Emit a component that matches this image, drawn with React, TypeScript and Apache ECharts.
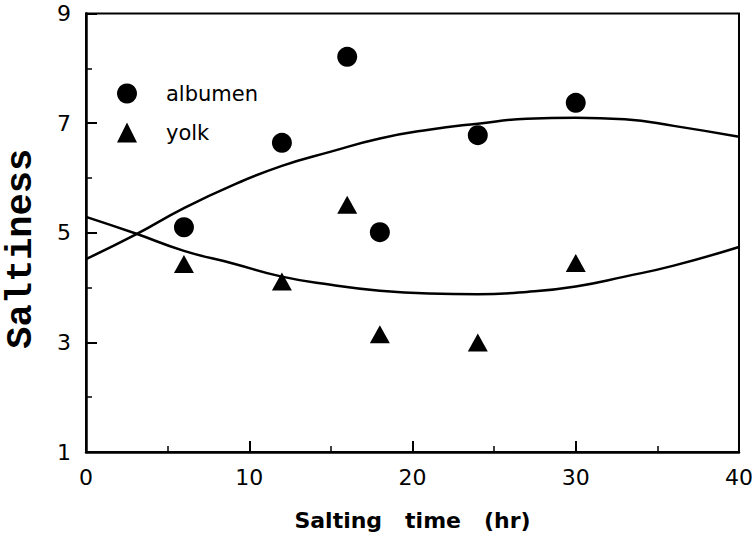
import React, { useEffect, useRef } from "react";
import * as echarts from "echarts";

// Measured points
const sampleHours = [6, 12, 16, 18, 24, 30];
const albumenValues = [5.1, 6.64, 8.21, 5.01, 6.78, 7.37];
const yolkValues = [4.43, 4.11, 5.51, 3.15, 3.0, 4.45];

// Fitted curves
const curveHours = [0, 3, 6, 9, 12, 15, 18, 21, 24, 27, 30, 33, 36, 40];
const albumenCurve = [4.52, 4.96, 5.45, 5.87, 6.22, 6.48, 6.72, 6.88, 6.99, 7.08, 7.1, 7.07, 6.95, 6.75];
const yolkCurve = [5.29, 4.99, 4.67, 4.44, 4.2, 4.05, 3.94, 3.89, 3.88, 3.92, 4.02, 4.2, 4.4, 4.74];

const xTicks = [0, 10, 20, 30, 40];
const yTicks = [1, 3, 5, 7, 9];

const pairs = (xs: number[], ys: number[]) => xs.map((x, i) => [x, ys[i]]);

export default function App() {
  const ref = useRef<HTMLDivElement>(null);
  useEffect(() => {
    if (!ref.current) return;
    const chart = echarts.init(ref.current, null, { renderer: "svg" });
    const axisCommon = {
      type: "value" as const,
      axisLine: { show: true, lineStyle: { color: "#000", width: 2.5 } },
      axisTick: { show: true, inside: true, length: 11, lineStyle: { color: "#000", width: 2 } },
      minorTick: { show: true, splitNumber: 2, length: 6, lineStyle: { color: "#000", width: 1.5 } },
      splitLine: { show: false },
      axisLabel: { color: "#000", fontFamily: "DejaVu Sans", fontSize: 22 },
    };
    chart.setOption({
      animation: false,
      backgroundColor: "#fff",
      grid: {
        left: 86, right: 17, top: 13.5, bottom: 91,
        containLabel: false,
        outerBoundsMode: "none",
        show: true, borderColor: "#000", borderWidth: 2, backgroundColor: "transparent",
      },
      legend: {
        orient: "vertical",
        left: 112,
        top: 78,
        itemWidth: 20,
        itemHeight: 20,
        itemGap: 18,
        data: [
          { name: "albumen", icon: "circle", itemStyle: { color: "#000", opacity: 1 } },
          { name: "yolk", icon: "triangle", itemStyle: { color: "#000", opacity: 1 } },
        ],
        textStyle: { color: "#000", fontFamily: "DejaVu Sans", fontSize: 21, padding: [0, 0, 0, 24] },
      },
      xAxis: {
        ...axisCommon,
        min: xTicks[0], max: xTicks[xTicks.length - 1], interval: 10,
        axisLabel: { ...axisCommon.axisLabel, margin: 14 },
        name: "Salting   time   (hr)",
        nameLocation: "middle",
        nameGap: 57,
        nameTextStyle: { color: "#000", fontFamily: "DejaVu Sans", fontWeight: "bold", fontSize: 22 },
      },
      yAxis: {
        ...axisCommon,
        min: yTicks[0], max: yTicks[yTicks.length - 1], interval: 2,
        axisLabel: { ...axisCommon.axisLabel, margin: 15 },
        name: "Saltiness",
        nameLocation: "middle",
        nameGap: 48,
        nameRotate: 90,
        nameTextStyle: {
          color: "#000", fontFamily: "Liberation Mono", fontWeight: "bold", fontSize: 37,
          lineHeight: 34,
          padding: [0, 32, 0, 0],
        },
      },
      series: [
        {
          name: "albumen fit", type: "line", smooth: true, symbol: "none",
          data: pairs(curveHours, albumenCurve),
          lineStyle: { color: "#000", width: 2.5 }, z: 2,
        },
        {
          name: "yolk fit", type: "line", smooth: true, symbol: "none",
          data: pairs(curveHours, yolkCurve),
          lineStyle: { color: "#000", width: 2.5 }, z: 2,
        },
        {
          name: "albumen", type: "scatter", symbol: "circle", symbolSize: 20,
          data: pairs(sampleHours, albumenValues),
          itemStyle: { color: "#000", opacity: 1 }, z: 3,
        },
        {
          name: "yolk", type: "scatter", symbol: "triangle", symbolSize: [20, 18],
          data: pairs(sampleHours, yolkValues),
          itemStyle: { color: "#000", opacity: 1 }, z: 3,
        },
      ],
    });
    return () => chart.dispose();
  }, []);
  return <div ref={ref} style={{ width: 756, height: 543, position: "absolute", left: 0, top: 0 }} />;
}
